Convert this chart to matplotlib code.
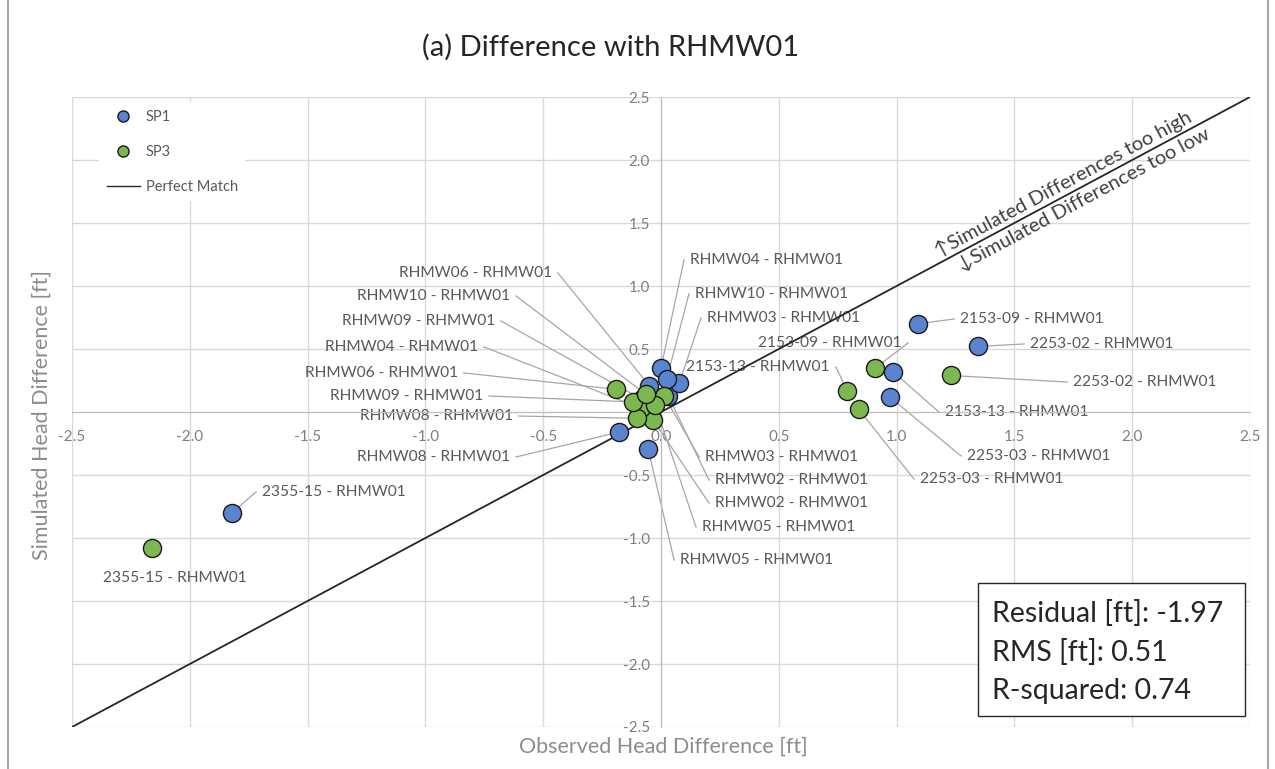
import matplotlib
matplotlib.use('Agg')
import numpy as np
import matplotlib.pyplot as plt
from matplotlib.lines import Line2D
from matplotlib.patches import Rectangle

plt.rcParams['font.family'] = ['Lato', 'DejaVu Sans']

# well pairs (same order for both stress periods)
wells = ['2355-15', '2153-09', '2253-02', '2153-13', '2253-03', 'RHMW02', 'RHMW03',
         'RHMW04', 'RHMW05', 'RHMW06', 'RHMW08', 'RHMW09', 'RHMW10']
sp1_obs = [-1.82, 1.09, 1.345, 0.985, 0.97, 0.03, 0.078, 0.00, -0.055, -0.05, -0.18, -0.08, 0.024]
sp1_sim = [-0.80, 0.70, 0.52, 0.32, 0.12, 0.13, 0.23, 0.35, -0.29, 0.21, -0.16, 0.10, 0.26]
sp3_obs = [-2.16, 0.91, 1.23, 0.79, 0.84, -0.033, 0.013, -0.085, -0.025, -0.19, -0.10, -0.12, -0.064]
sp3_sim = [-1.08, 0.35, 0.29, 0.17, 0.02, -0.065, 0.13, 0.03, 0.055, 0.18, -0.05, 0.08, 0.14]
ref = 'RHMW01'
stats = ['Residual [ft]: -1.97', 'RMS [ft]: 0.51', 'R-squared: 0.74']
ticks = [-2.5, -2.0, -1.5, -1.0, -0.5, 0.0, 0.5, 1.0, 1.5, 2.0, 2.5]

# label placement (data coords, alignment)
sp1_lab = [(-1.694, -0.635, 'left'), (1.269, 0.738, 'left'), (1.566, 0.540, 'left'),
           (1.205, 0.0, 'left'), (1.299, -0.349, 'left'), (0.229, -0.540, 'left'),
           (0.195, 0.746, 'left'), (0.123, 1.206, 'left'), (0.081, -1.175, 'left'),
           (-0.463, 1.103, 'right'), (-0.641, -0.357, 'right'), (-0.705, 0.722, 'right'),
           (0.144, 0.937, 'left')]
sp3_lab = [(-2.063, -1.317, 'center'), (1.023, 0.548, 'right'), (1.749, 0.238, 'left'),
           (0.717, 0.357, 'right'), (1.099, -0.532, 'left'), (0.229, -0.722, 'left'),
           (0.187, -0.357, 'left'), (-0.777, 0.516, 'right'), (0.174, -0.913, 'left'),
           (-0.862, 0.310, 'right'), (-0.628, -0.032, 'right'), (-0.755, 0.127, 'right'),
           (-0.641, 0.921, 'right')]

blue = '#5b84d0'
green = '#7cb84f'
txt = '#595959'

fig = plt.figure(figsize=(12.75, 7.69), dpi=100)
ax = fig.add_axes([72/1275, 1-727/769, 1178/1275, 630/769])
ax.set_xlim(-2.5, 2.5)
ax.set_ylim(-2.5, 2.5)
ax.set_xticks(ticks)
ax.set_yticks(ticks)
ax.set_xticklabels(['%.1f' % t for t in ticks])
ax.set_yticklabels(['%.1f' % t for t in ticks])
ax.grid(True, color='#d9d9d9', lw=1, zorder=0)
ax.set_axisbelow(True)
for s in ['top', 'right']:
    ax.spines[s].set_visible(False)
ax.spines['left'].set_position(('data', 0))
ax.spines['bottom'].set_position(('data', 0))
ax.spines['left'].set_color('#bfbfbf')
ax.spines['bottom'].set_color('#bfbfbf')
ax.tick_params(axis='x', length=0, pad=13, labelsize=11, labelcolor='#7f7f7f')
ax.tick_params(axis='y', length=0, pad=8, labelsize=11, labelcolor='#7f7f7f')

ax.plot([-2.5, 2.5], [-2.5, 2.5], color='#262626', lw=1.3, zorder=2.5)

ax.scatter(sp1_obs, sp1_sim, s=170, c=blue, edgecolors='#1a1a1a', linewidths=1, zorder=3)
ax.scatter(sp3_obs, sp3_sim, s=170, c=green, edgecolors='#1a1a1a', linewidths=1, zorder=3)

def label(xs, ys, labs):
    for w, x, y, (tx, ty, ha) in zip(wells, xs, ys, labs):
        if ha == 'center':
            ax.text(tx, ty, w + ' - ' + ref, ha='center', va='center', fontsize=11.2, color=txt)
            continue
        ang = 0 if ha == 'right' else 180
        ax.annotate(w + ' - ' + ref, xy=(x, y), xytext=(tx, ty), ha=ha, va='center',
                    fontsize=11.2, color=txt, zorder=2,
                    arrowprops=dict(arrowstyle='-', color='#a6a6a6', lw=0.9,
                                    shrinkA=2, shrinkB=6,
                                    relpos=(1, 0.5) if ha == 'right' else (0, 0.5),
                                    connectionstyle='arc,angleA=%d,angleB=0,armA=6,armB=0,rad=0' % ang))

label(sp1_obs, sp1_sim, sp1_lab)
label(sp3_obs, sp3_sim, sp3_lab)

# text along the perfect-match line
p0 = ax.transData.transform((-2.5, -2.5))
p1 = ax.transData.transform((2.5, 2.5))
rot = np.degrees(np.arctan2(p1[1] - p0[1], p1[0] - p0[0]))
nx, ny = -np.sin(np.radians(rot)), np.cos(np.radians(rot))
ax.annotate('\u2191Simulated Differences too high', xy=(1.73, 1.73), xytext=(2*nx, 2*ny),
            textcoords='offset points', rotation=rot, rotation_mode='anchor',
            ha='center', va='bottom', fontsize=14.5, color='#404040')
ax.annotate('\u2193Simulated Differences too low', xy=(1.77, 1.77), xytext=(-2*nx, -2*ny),
            textcoords='offset points', rotation=rot, rotation_mode='anchor',
            ha='center', va='top', fontsize=14.5, color='#404040')

handles = [Line2D([], [], marker='o', ls='none', ms=8, mfc=blue, mec='#1a1a1a', mew=1),
           Line2D([], [], marker='o', ls='none', ms=8, mfc=green, mec='#1a1a1a', mew=1),
           Line2D([], [], color='#262626', lw=1)]
leg = ax.legend(handles, ['SP1', 'SP3', 'Perfect Match'], loc='upper left',
                bbox_to_anchor=(0.017, 1.003), fontsize=10.5, labelcolor=txt,
                labelspacing=1.45, handlelength=2.3, borderpad=0.5, handletextpad=0.4,
                facecolor='white', edgecolor='none', framealpha=1, fancybox=False)
leg.set_zorder(5)

fig.text(611/1275, 1-47/769, '(a) Difference with RHMW01', ha='center', va='center',
         fontsize=21, color='#262626')
fig.text(663/1275, 1-747/769, 'Observed Head Difference [ft]', ha='center', va='center',
         fontsize=15.5, color='#8c8c8c')
fig.text(42/1275, 1-415/769, 'Simulated Head Difference [ft]', ha='center', va='center',
         rotation=90, fontsize=15.5, color='#8c8c8c')

# stats box
fig.patches.append(Rectangle((978/1275, 1-716/769), 267/1275, 133/769, transform=fig.transFigure,
                             facecolor='white', edgecolor='#262626', lw=1, zorder=6))
for i, s in enumerate(stats):
    fig.text(992/1275, 1-(614+38.5*i)/769, s, ha='left', va='center', fontsize=20.5,
             color='#262626', zorder=7)

# outer frame
fig.patches.append(Rectangle((8/1275, -0.01), 1260/1275, 1.02, transform=fig.transFigure,
                             facecolor='none', edgecolor='#a6a6a6', lw=1.5))

plt.savefig('out.png', dpi=100)
